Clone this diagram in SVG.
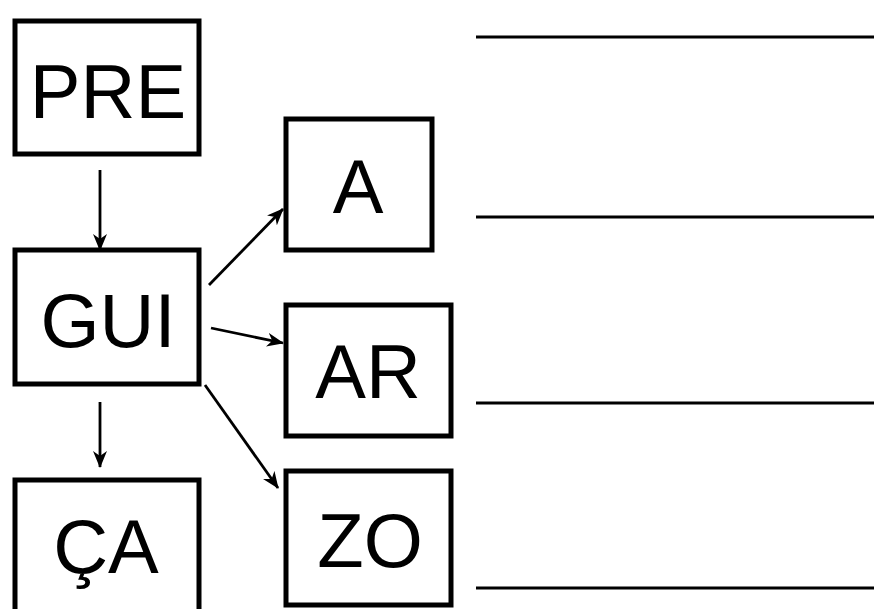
<svg xmlns="http://www.w3.org/2000/svg" width="874" height="609" viewBox="0 0 874 609">
<style>
.box{fill:#fff;stroke:#000;stroke-width:5}
.lbl{font-family:"Liberation Sans",Arial,sans-serif;font-size:76px;fill:#000;text-anchor:middle}
.con{stroke:#000;stroke-width:2.8;fill:none;marker-end:url(#ah)}
.rule{stroke:#000;stroke-width:3}
</style>
<defs>
<marker id="ah" markerWidth="18" markerHeight="14" refX="16" refY="7" orient="auto" markerUnits="userSpaceOnUse">
<path d="M0,0 L17,7 L0,14 L5,7 Z" fill="#000"/>
</marker>
</defs>
<rect width="874" height="609" fill="#fff"/>
<g id="PRE"><rect class="box" x="15" y="21" width="184" height="133"/><text class="lbl" x="108" y="118">PRE</text></g>
<g id="GUI"><rect class="box" x="15" y="250" width="184" height="134"/><text class="lbl" x="108" y="347">GUI</text></g>
<g id="CA"><rect class="box" x="15" y="480" width="184" height="134"/><text class="lbl" x="106" y="573">ÇA</text></g>
<g id="A"><rect class="box" x="286" y="119" width="146" height="131"/><text class="lbl" x="358" y="213">A</text></g>
<g id="AR"><rect class="box" x="286" y="305" width="165" height="131"/><text class="lbl" x="368" y="398">AR</text></g>
<g id="ZO"><rect class="box" x="286" y="471" width="165" height="134"/><text class="lbl" x="370" y="567">ZO</text></g>
<g id="connectors">
<line class="con" x1="100" y1="170" x2="100" y2="250"/>
<line class="con" x1="100" y1="402" x2="100" y2="467"/>
<line class="con" x1="209" y1="285" x2="283" y2="209"/>
<line class="con" x1="211" y1="328" x2="283" y2="343"/>
<line class="con" x1="205" y1="385" x2="278" y2="488"/>
</g>
<g id="rules">
<line class="rule" x1="476" y1="37" x2="874" y2="37"/>
<line class="rule" x1="476" y1="217" x2="874" y2="217"/>
<line class="rule" x1="476" y1="403" x2="874" y2="403"/>
<line class="rule" x1="476" y1="588" x2="874" y2="588"/>
</g>
</svg>
